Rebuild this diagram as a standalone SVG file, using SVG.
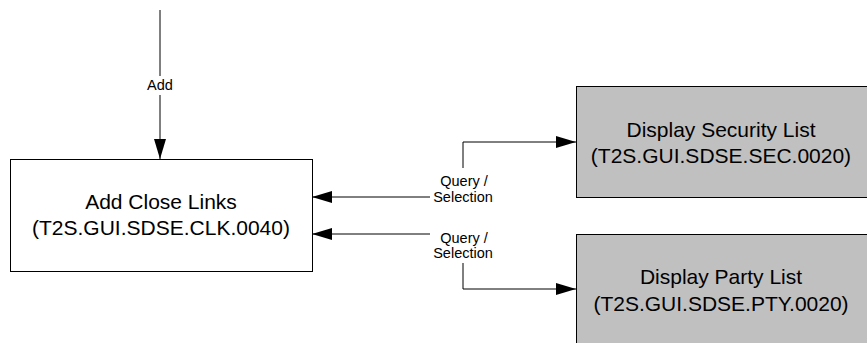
<svg xmlns="http://www.w3.org/2000/svg" width="867" height="343" viewBox="0 0 867 343">
<style>
.box{stroke:#000;stroke-width:1}
.t{font-family:"Liberation Sans",Arial,sans-serif;font-size:21px;fill:#000;text-anchor:middle}
.l{font-family:"Liberation Sans",Arial,sans-serif;font-size:14.5px;fill:#000;text-anchor:middle}
.c{fill:none;stroke:#000;stroke-width:1}
</style>
<defs>
<marker id="ah" markerWidth="20" markerHeight="12" refX="20" refY="6" orient="auto" markerUnits="userSpaceOnUse">
<path d="M0,0 L20,6 L0,12 Z" fill="#000"/>
</marker>
</defs>
<rect width="867" height="343" fill="#fff"/>
<g id="connectors">
<path class="c" d="M160,10 V76" />
<path class="c" d="M160,95 V159" marker-end="url(#ah)"/>
<path class="c" d="M463,168 V142 H576" marker-end="url(#ah)"/>
<path class="c" d="M430,197 H312" marker-end="url(#ah)"/>
<path class="c" d="M430,234 H312" marker-end="url(#ah)"/>
<path class="c" d="M463,263 V289 H576" marker-end="url(#ah)"/>
<text class="l" x="160" y="90">Add</text>
<text class="l" x="464" y="186">Query /</text>
<text class="l" x="463" y="202">Selection</text>
<text class="l" x="464" y="243">Query /</text>
<text class="l" x="463" y="258">Selection</text>
</g>
<g id="node-clk">
<rect class="box" x="10.5" y="159.5" width="302" height="112" fill="#fff"/>
<text class="t" x="161" y="209">Add Close Links</text>
<text class="t" x="161" y="235">(T2S.GUI.SDSE.CLK.0040)</text>
</g>
<g id="node-sec">
<rect class="box" x="576.5" y="86.5" width="296" height="111" fill="#c0c0c0"/>
<text class="t" x="721" y="137">Display Security List</text>
<text class="t" x="721" y="163">(T2S.GUI.SDSE.SEC.0020)</text>
</g>
<g id="node-pty">
<rect class="box" x="576.5" y="234.5" width="296" height="120" fill="#c0c0c0"/>
<text class="t" x="721" y="284">Display Party List</text>
<text class="t" x="721" y="311">(T2S.GUI.SDSE.PTY.0020)</text>
</g>
</svg>
